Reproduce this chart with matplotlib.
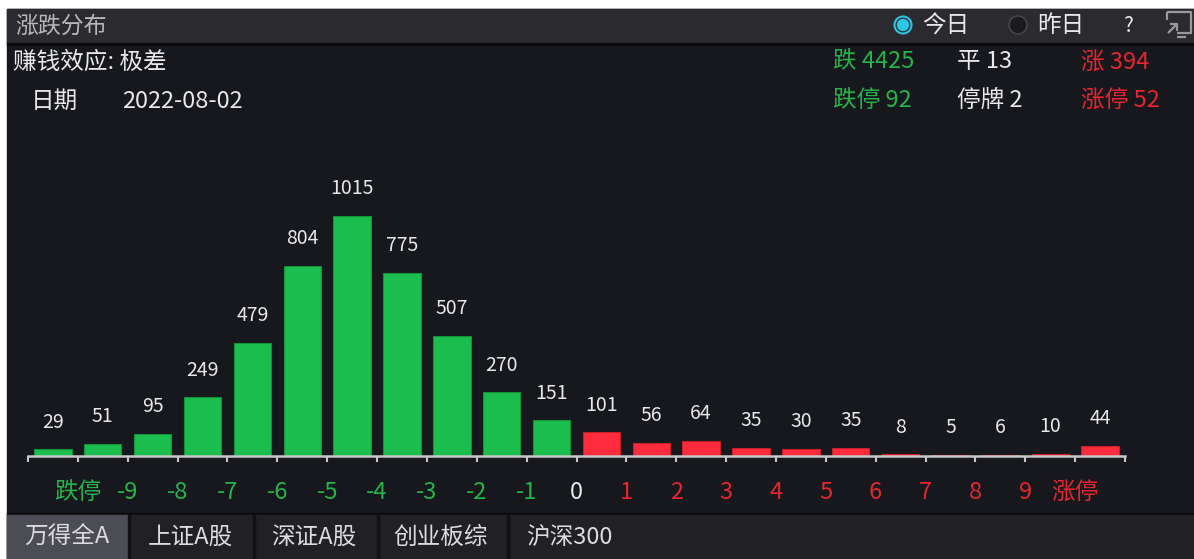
import matplotlib
matplotlib.use('Agg')
import matplotlib.pyplot as plt
from matplotlib.patches import Rectangle, Circle

plt.rcParams['font.family'] = ['Noto Sans CJK SC', 'DejaVu Sans']

# data
down_counts = [29, 51, 95, 249, 479, 804, 1015, 775, 507, 270, 151]
up_counts = [101, 56, 64, 35, 30, 35, 8, 5, 6, 10, 44]
tick_labels = ['跌停', '-9', '-8', '-7', '-6', '-5', '-4', '-3', '-2', '-1', '0',
               '1', '2', '3', '4', '5', '6', '7', '8', '9', '涨停']
tabs = ['万得全A', '上证A股', '深证A股', '创业板综', '沪深300']
stats_row1 = [('跌 4425', 'green'), ('平 13', 'white'), ('涨 394', 'red')]
stats_row2 = [('跌停 92', 'green'), ('停牌 2', 'white'), ('涨停 52', 'red')]

GREEN = '#1cbd4f'
RED = '#fd2b3b'
TXT_GREEN = '#25b44a'
TXT_RED = '#e52631'
TXT_WHITE = '#e8e8e8'
colmap = {'green': TXT_GREEN, 'white': TXT_WHITE, 'red': TXT_RED}

W, H = 1194, 559
fig = plt.figure(figsize=(W / 100, H / 100), dpi=100, facecolor='white')

# background panel drawn in pixel coords
bg = fig.add_axes([0, 0, 1, 1])
bg.set_xlim(0, W)
bg.set_ylim(H, 0)
bg.axis('off')

bg.add_patch(Rectangle((7, 9), W - 7, H - 9, color='#16181d', zorder=0))
bg.add_patch(Rectangle((7, 9), W - 7, 34, color='#2a2a2f', zorder=1))
bg.add_patch(Rectangle((7, 43), W - 7, 2, color='#0b0b0d', zorder=1))
bg.add_patch(Rectangle((7, 513), W - 7, 2, color='#0b0b0d', zorder=1))
bg.add_patch(Rectangle((7, 515), W - 7, H - 515, color='#212125', zorder=1))
bg.add_patch(Rectangle((7, 515), 121, H - 515, color='#4c4c55', zorder=2))
for sx in [128, 253, 377, 507]:
    bg.add_patch(Rectangle((sx, 515), 2, H - 515, color='#111114', zorder=3))

# header
bg.text(15, 26, '涨跌分布', color='#b8b8bc', fontsize=16.5, va='center', ha='left')
bg.add_patch(Circle((903, 25), 8.5, facecolor='none', edgecolor='#2cc6e3', lw=1.5, zorder=3))
bg.add_patch(Circle((903, 25), 5.5, color='#2cc6e3', zorder=3))
bg.text(922, 26, '今日', color=TXT_WHITE, fontsize=17, va='center', ha='left')
bg.add_patch(Circle((1018, 25), 9, facecolor='#1b1b1f', edgecolor='#44444a', lw=1.2, zorder=3))
bg.text(1037, 26, '昨日', color=TXT_WHITE, fontsize=17, va='center', ha='left')
bg.text(1128, 26, '?', color=TXT_WHITE, fontsize=15, va='center', ha='center')
# screen icon
ic = dict(color='#9a9a9e', lw=1.6, solid_capstyle='butt')
bg.plot([1167, 1191, 1191, 1177], [12, 12, 33, 33], **ic)
bg.plot([1167, 1167], [12, 20], **ic)
bg.plot([1177, 1186], [37, 37], **ic)
bg.plot([1168, 1177], [33, 24], **ic)
bg.plot([1170, 1177, 1177], [24, 24, 31], **ic)

# info lines
bg.text(13, 62, '赚钱效应: 极差', color=TXT_WHITE, fontsize=17, va='center', ha='left')
bg.text(31, 101, '日期', color=TXT_WHITE, fontsize=17, va='center', ha='left')
bg.text(122, 101, '2022-08-02', color=TXT_WHITE, fontsize=17, va='center', ha='left')
for (txt, c), x in zip(stats_row1, [833, 957, 1081]):
    bg.text(x, 62, txt, color=colmap[c], fontsize=17, va='center', ha='left')
for (txt, c), x in zip(stats_row2, [833, 957, 1081]):
    bg.text(x, 100, txt, color=colmap[c], fontsize=17, va='center', ha='left')

# tabs
for txt, cx in zip(tabs, [67, 190, 314, 441, 569]):
    bg.text(cx, 537, txt, color='#dcdcde', fontsize=17, va='center', ha='center', zorder=4)

# chart axes
ax = fig.add_axes([28 / W, 103 / H, 1097 / W, 326 / H])
ax.set_facecolor('none')
values = down_counts + up_counts
colors = [GREEN] * len(down_counts) + [RED] * len(up_counts)
edges = ['#13903a'] * len(down_counts) + ['#c81e2c'] * len(up_counts)
xs = [i + 0.5 for i in range(len(values))]
ax.bar(xs, values, width=0.75, color=colors, edgecolor=edges, linewidth=0.8)
for x, v in zip(xs, values):
    ax.annotate(str(v), xy=(x, v), xytext=(0, 19.5), textcoords='offset points',
                ha='center', va='center', color=TXT_WHITE, fontsize=14)

ax.set_xlim(0, len(values))
ax.set_ylim(0, 1378)
for s in ['top', 'left', 'right']:
    ax.spines[s].set_visible(False)
ax.spines['bottom'].set_color('#c8c8c8')
ax.spines['bottom'].set_linewidth(1.8)
ax.set_yticks([])
ax.set_xticks(range(len(values) + 1))
ax.set_xticklabels([])
ax.tick_params(axis='x', length=4, width=1.5, color='#c8c8c8', direction='out')

for i, lab in enumerate(tick_labels):
    if i < 10:
        c = TXT_GREEN
    elif i == 10:
        c = TXT_WHITE
    else:
        c = TXT_RED
    ax.annotate(lab, xy=(i + 1, 0), xytext=(0, -26), textcoords='offset points',
                ha='center', va='center', color=c, fontsize=17)

fig.savefig('out.png', dpi=100, facecolor='white')
plt.close(fig)
